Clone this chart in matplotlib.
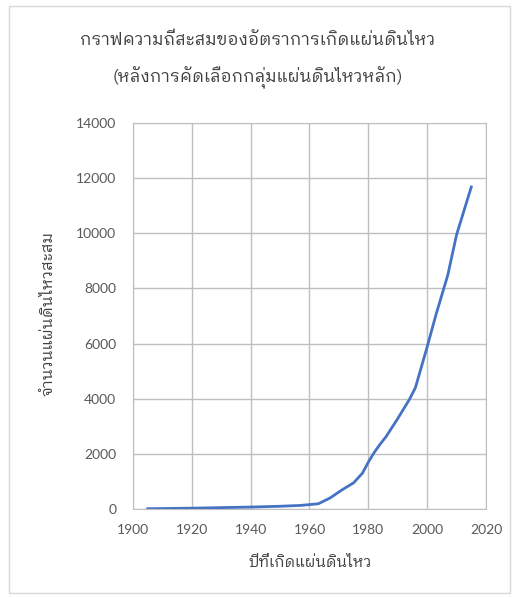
import matplotlib
matplotlib.use("Agg")
import matplotlib.pyplot as plt
from matplotlib.patches import Rectangle

# Cumulative count of main earthquakes by year
years = [1905, 1920, 1940, 1950, 1957, 1963, 1967, 1971, 1975, 1978,
         1980, 1982, 1984, 1986, 1990, 1994, 1996, 2000, 2003, 2007, 2010, 2015]
cumulative = [10, 30, 70, 100, 130, 190, 400, 690, 950, 1300,
              1700, 2050, 2350, 2620, 3280, 3980, 4400, 5880, 7050, 8480, 9950, 11680]

title_line1 = "กราฟความถี่สะสมของอัตราการเกิดแผ่นดินไหว"
title_line2 = "(หลังการคัดเลือกกลุ่มแผ่นดินไหวหลัก)"
xlabel_text = "ปีที่เกิดแผ่นดินไหว"
ylabel_text = "จำนวนแผ่นดินไหวสะสม"
xticks = [1900, 1920, 1940, 1960, 1980, 2000, 2020]
yticks = [0, 2000, 4000, 6000, 8000, 10000, 12000, 14000]

thai_font = ["IBM Plex Sans Thai Looped", "Noto Sans Thai", "DejaVu Sans"]
num_font = ["Lato", "DejaVu Sans"]
plt.rcParams["font.family"] = num_font

W, H = 514, 597
fig = plt.figure(figsize=(W / 100, H / 100), dpi=100)
fig.patch.set_facecolor("white")
fig.patches.append(Rectangle((9 / W, 1 - 593 / H), 501 / W, 587 / H,
                             transform=fig.transFigure, fill=False,
                             edgecolor="#d9d9d9", linewidth=1.0))

ax = fig.add_axes([133 / W, 1 - 509 / H, 353 / W, 386 / H])
ax.plot(years, cumulative, color="#4472C4", linewidth=2.0,
        solid_joinstyle="round")

ax.set_xlim(1900, 2020)
ax.set_ylim(0, 14000)
ax.set_xticks(xticks)
ax.set_yticks(yticks)
ax.grid(True, color="#bfbfbf", linewidth=1.0)
ax.set_axisbelow(True)
for s in ax.spines.values():
    s.set_color("#bfbfbf")
ax.tick_params(axis="x", length=0, colors="#595959", labelsize=10, pad=11)
ax.tick_params(axis="y", length=0, colors="#595959", labelsize=10, pad=12)

text_kw = dict(ha="center", va="center", color="#404040", family=thai_font,
               fontweight="normal")
fig.text(310 / W, 1 - 563 / H, xlabel_text, fontsize=11, **text_kw)
fig.text(48 / W, 1 - 314 / H, ylabel_text, rotation=90, fontsize=11.3, **text_kw)
fig.text(258 / W, 1 - 40 / H, title_line1, fontsize=12.3, **text_kw)
fig.text(258 / W, 1 - 78 / H, title_line2, fontsize=12.3, **text_kw)

fig.savefig("out.png", dpi=100)
